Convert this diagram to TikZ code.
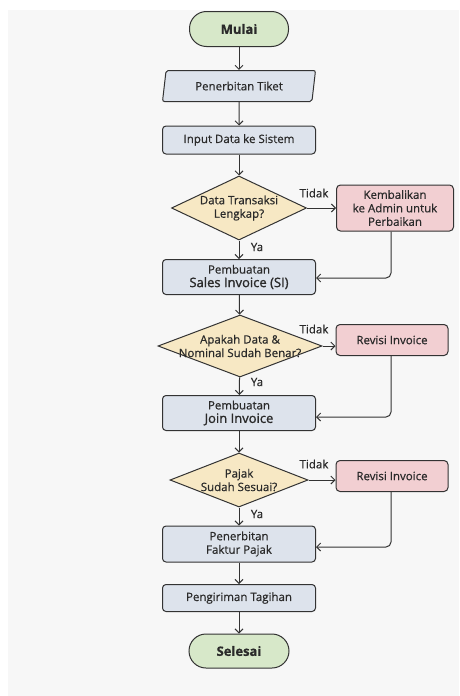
\documentclass[tikz,border=0pt]{standalone}
\usepackage{fontspec}
\setmainfont{Open Sans}[FakeBold=0.6]
\newfontfamily\semib{Open Sans}[FakeBold=1.4]
\usetikzlibrary{shapes.geometric,arrows.meta}

\definecolor{termfill}{HTML}{D7E8C9}
\definecolor{procfill}{HTML}{DDE3EC}
\definecolor{decfill}{HTML}{F7E8C4}
\definecolor{errfill}{HTML}{F2CFD2}
\definecolor{edgegray}{HTML}{333333}
\definecolor{txtgray}{HTML}{2A2A2A}

\tikzset{
	base/.style={draw=edgegray, line width=1pt, text=txtgray, font=\fontsize{11.5}{13.5}\selectfont, align=center, inner sep=0pt},
	term/.style={base, fill=termfill, rounded corners=17pt, minimum width=99pt, minimum height=35pt, font=\fontsize{13}{15}\selectfont\bfseries},
	proc/.style={base, fill=procfill, rounded corners=3.5pt, minimum width=153pt},
	io/.style={base, fill=procfill, trapezium, trapezium left angle=68, trapezium right angle=112, trapezium stretches body, minimum width=153pt, minimum height=31pt, rounded corners=2pt},
	dec/.style={base, fill=decfill, diamond, aspect=2.4, inner xsep=-20pt, inner ysep=-6pt},
	err/.style={base, fill=errfill, rounded corners=4pt, minimum width=112pt},
	flow/.style={draw=edgegray, line width=1pt, -{Straight Barb[length=4pt,width=8pt]}},
	back/.style={flow, rounded corners=5pt},
	lbl/.style={text=txtgray, font=\fontsize{11.5}{13}\selectfont, inner sep=0pt}
}

\begin{document}
\begin{tikzpicture}[x=1pt, y=-1pt]
		\fill[white] (0, 0) rectangle (459, 696);
		\fill[black!3] (8, 10) rectangle (459, 696);
		\useasboundingbox (0, 0) rectangle (459, 696);

		\node[term] (mulai) at (239, 29) {Mulai};
		\node[io] (tiket) at (239, 86) {Penerbitan Tiket};
		\node[proc, minimum height=28pt] (input) at (239, 140) {Input Data ke Sistem};
		\node[dec, minimum width=135pt, minimum height=64pt] (cek1) at (239, 208) {Data Transaksi\\Lengkap?};
		\node[err, minimum width=117pt, minimum height=46pt] (kembali) at (395, 208) {Kembalikan\\ke Admin untuk\\Perbaikan};
		\node[proc, minimum height=35pt] (si) at (239, 277) {Pembuatan\\{\semib\fontsize{13}{15}\selectfont Sales Invoice (SI)}};
		\node[dec, minimum width=164pt, minimum height=62pt] (cek2) at (240, 346) {Apakah Data \&\\Nominal Sudah Benar?};
		\node[err, minimum height=31pt] (revisi1) at (392, 340) {Revisi Invoice};
		\node[proc, minimum height=35pt] (join) at (239, 413) {Pembuatan\\{\semib\fontsize{13}{15}\selectfont Join Invoice}};
		\node[dec, minimum width=138pt, minimum height=54pt] (cek3) at (239, 480) {Pajak\\Sudah Sesuai?};
		\node[err, minimum height=31pt] (revisi2) at (392, 476) {Revisi Invoice};
		\node[proc, minimum height=36pt] (faktur) at (239, 544) {Penerbitan\\Faktur Pajak};
		\node[proc, minimum height=27pt] (kirim) at (239, 598) {Pengiriman Tagihan};
		\node[term, minimum width=100pt, minimum height=34pt] (selesai) at (239, 651) {Selesai};

		% alur utama
		\draw[flow] (mulai) -- (tiket);
		\draw[flow] (tiket) -- (input);
		\draw[flow] (input) -- (cek1);
		\draw[flow] (cek1) -- (si);
		\draw[flow] (si) -- (cek2);
		\draw[flow] (cek2) -- (join);
		\draw[flow] (join) -- (cek3);
		\draw[flow] (cek3) -- (faktur);
		\draw[flow] (faktur) -- (kirim);
		\draw[flow] (kirim) -- (selesai);

		% cabang tidak
		\draw[flow] (cek1.east) -- (kembali.west);
		\draw[flow] (cek2.east) -- (cek2.east -| revisi1.west);
		\draw[flow] (cek3.east) -- (cek3.east -| revisi2.west);

		% kembali ke alur
		\draw[back] (kembali.south -| 391, 0) |- ([yshift=-1pt]si.east);
		\draw[back] (revisi1.south -| 391, 0) |- ([yshift=-4pt]join.east);
		\draw[back] (revisi2.south -| 391, 0) |- ([yshift=-3pt]faktur.east);

		% label
		\node[lbl] (ya1) at (257, 247) {Ya};
		\node[lbl] (ya2) at (257, 382) {Ya};
		\node[lbl] (ya3) at (257, 514) {Ya};
		\node[lbl] (tidak1) at (314, 193) {Tidak};
		\node[lbl] (tidak2) at (314, 329) {Tidak};
		\node[lbl] (tidak3) at (314, 464) {Tidak};
	\end{tikzpicture}
\end{document}
